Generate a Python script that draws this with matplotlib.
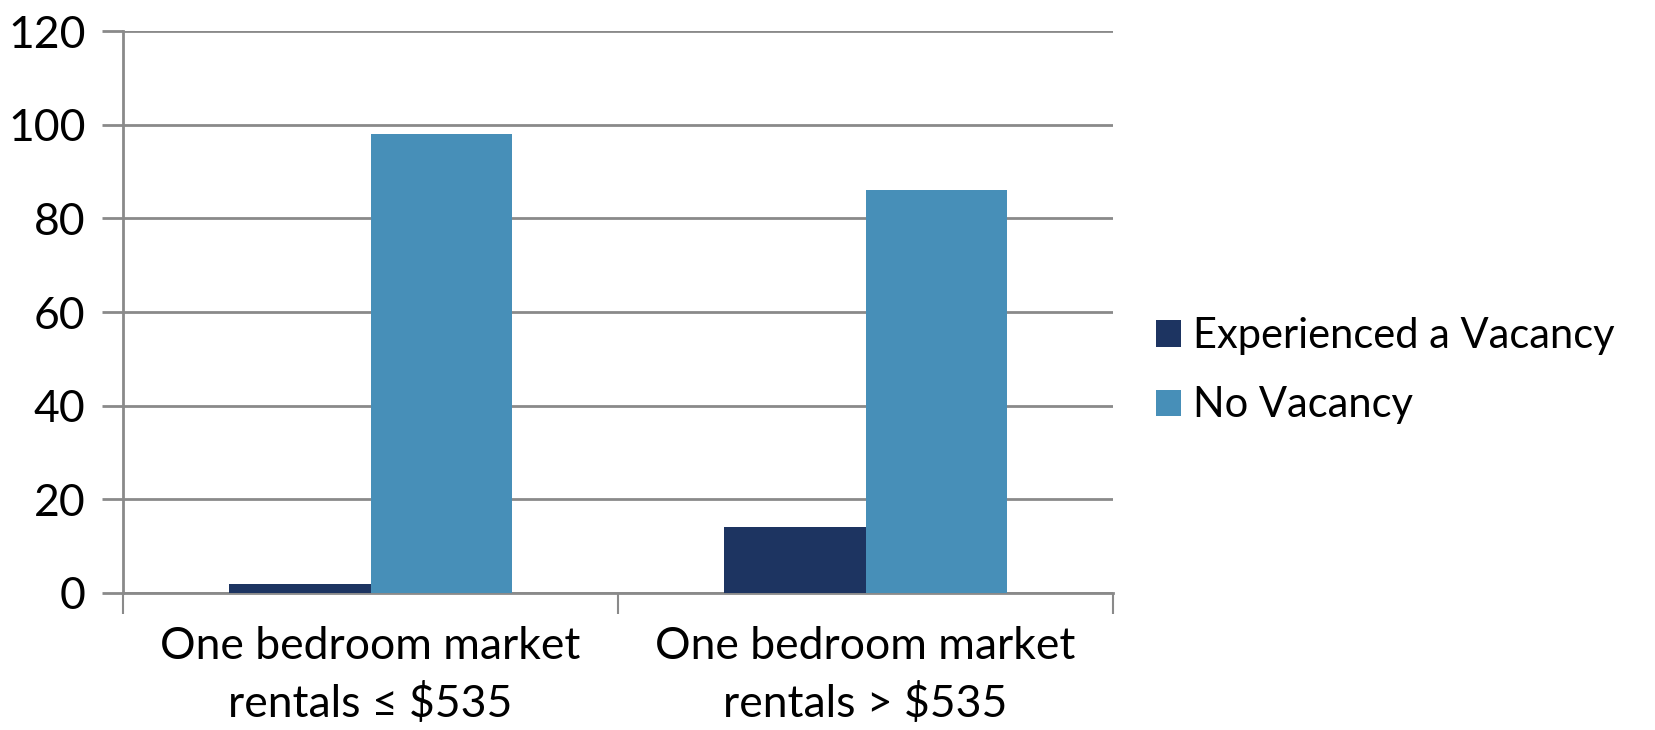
import matplotlib
matplotlib.use('Agg')
import matplotlib.pyplot as plt
import numpy as np

categories = ['One bedroom market\nrentals ≤ $535', 'One bedroom market\nrentals > $535']
series_names = ['Experienced a Vacancy', 'No Vacancy']
experienced = [2, 14]
no_vacancy = [98, 86]
colors = ['#1D3461', '#478FB8']

plt.rcParams['font.family'] = ['Lato', 'DejaVu Sans']

fig = plt.figure(figsize=(16.56, 7.3), dpi=100)
ax = fig.add_axes([0.0743, 0.1877, 0.5978, 0.7698])

x = np.arange(len(categories))
w = 0.285
ax.bar(x - w / 2, experienced, w, color=colors[0], label=series_names[0], zorder=3)
ax.bar(x + w / 2, no_vacancy, w, color=colors[1], label=series_names[1], zorder=3)

ax.set_xlim(-0.5, len(categories) - 0.5)
ax.set_ylim(0, 120)
ax.set_yticks(range(0, 121, 20))
ax.yaxis.grid(True, color='#8a8a8a', linewidth=2, zorder=0)

# category ticks between groups
ax.set_xticks(np.arange(-0.5, len(categories), 1.0))
ax.set_xticklabels([])
ax.set_xticks(x, minor=True)
ax.set_xticklabels(categories, minor=True, fontsize=32, linespacing=1.45)
ax.tick_params(axis='x', which='minor', length=0, pad=24)
ax.tick_params(axis='x', which='major', length=15, width=1.5, color='#8a8a8a')
ax.tick_params(axis='y', length=15, width=2, color='#8a8a8a', labelsize=32, pad=12)

for s in ['top', 'right']:
    ax.spines[s].set_visible(False)
ax.spines['left'].set_color('#8a8a8a')
ax.spines['left'].set_linewidth(2)
ax.spines['bottom'].set_color('#8a8a8a')
ax.spines['bottom'].set_linewidth(2)

fig.legend(loc='center left', bbox_to_anchor=(0.698, 0.492), frameon=False,
           borderpad=0, borderaxespad=0,
           fontsize=30, handlelength=0.6, handleheight=0.6,
           handletextpad=0.3, labelspacing=0.75)

fig.savefig('out.png', dpi=100)
